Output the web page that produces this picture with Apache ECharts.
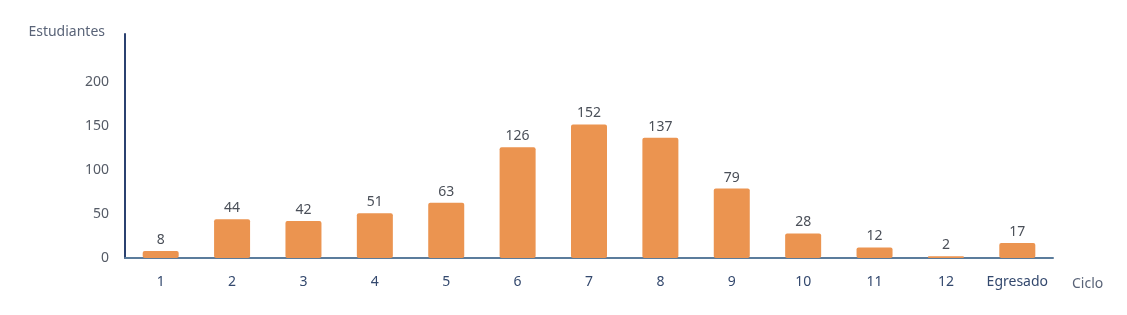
<!DOCTYPE html>
<html>
<head>
<meta charset="utf-8">
<script src="https://cdn.jsdelivr.net/npm/echarts@6/dist/echarts.min.js"></script>
<style>html,body{margin:0;padding:0;background:#fff;}#c{width:1127px;height:315px;}</style>
</head>
<body>
<div id="c"></div>
<script>
const categories = ['1','2','3','4','5','6','7','8','9','10','11','12','Egresado'];
const estudiantes = [8, 44, 42, 51, 63, 126, 152, 137, 79, 28, 12, 2, 17];
const yTicks = [0, 50, 100, 150, 200];

const FONT = 'Noto Sans';
const chart = echarts.init(document.getElementById('c'), null, {renderer: 'canvas'});
chart.setOption({
  animation: false,
  backgroundColor: '#ffffff',
  textStyle: {fontFamily: FONT},
  grid: {left: 125, right: 74, top: 34, bottom: 57},
  xAxis: {
    type: 'category',
    data: categories,
    name: 'Ciclo',
    nameLocation: 'end',
    nameGap: 19,
    nameTextStyle: {color: '#5a6478', fontSize: 14, fontFamily: FONT, verticalAlign: 'top', lineHeight: 52},
    axisLine: {show: true, lineStyle: {color: '#5b7c9c', width: 2}},
    axisTick: {show: false},
    axisLabel: {interval: 0, color: '#34496e', fontSize: 14, fontFamily: FONT, margin: 17}
  },
  yAxis: {
    type: 'value',
    min: 0,
    max: 255,
    interval: 50,
    name: 'Estudiantes',
    nameLocation: 'end',
    nameGap: -5,
    nameTextStyle: {color: '#5a6478', fontSize: 14, fontFamily: FONT, align: 'right', padding: [0, 20, 0, 0]},
    axisLine: {show: true, lineStyle: {color: '#2b4170', width: 2}},
    axisTick: {show: false},
    splitLine: {show: false},
    axisLabel: {
      color: '#555b66', fontSize: 14, fontFamily: FONT, margin: 16,
      padding: [0, 0, 6, 0],
      formatter: v => yTicks.indexOf(v) >= 0 ? String(v) : ''
    }
  },
  series: [{
    type: 'bar',
    data: estudiantes,
    barWidth: 36,
    itemStyle: {color: '#EB9450', borderRadius: 2},
    label: {show: true, position: 'top', color: '#4a4f58', fontSize: 14, fontFamily: FONT, distance: 4}
  }]
});
</script>
</body>
</html>
